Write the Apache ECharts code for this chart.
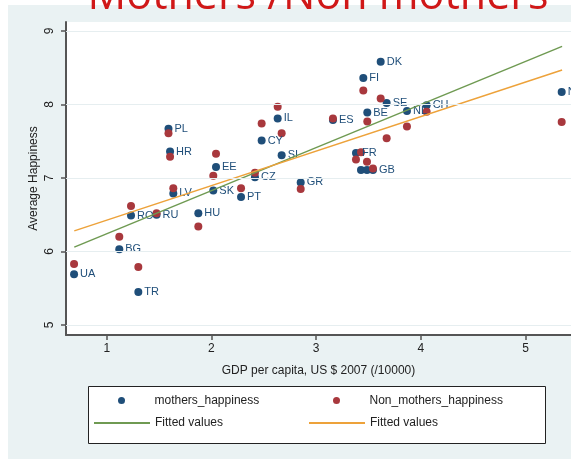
<!DOCTYPE html>
<html><head><meta charset="utf-8">
<script src="https://cdn.jsdelivr.net/npm/echarts@6/dist/echarts.min.js"></script>
<style>html,body{margin:0;padding:0;background:#fff}#c{width:571px;height:459px}</style>
</head><body><div id="c"></div>
<script>
// ---- data ----
const countries = ["UA","BG","TR","RO","RU","HU","LV","SK","EE","PL","HR","PT","CZ","GR","CY","IL","SI","ES","FR","DE","AT","GB","FI","BE","DK","SE","NL","CH","NO"];
const gdp = [0.688,1.120,1.302,1.232,1.476,1.875,1.636,2.018,2.044,1.590,1.605,2.283,2.416,2.853,2.480,2.633,2.671,3.161,3.381,3.429,3.486,3.543,3.451,3.489,3.617,3.674,3.868,4.056,5.346];
const mothersHappiness = [5.69,6.03,5.45,6.49,6.50,6.52,6.79,6.83,7.15,7.67,7.36,6.74,7.01,6.94,7.51,7.81,7.31,7.79,7.34,7.11,7.11,7.11,8.36,7.89,8.58,8.02,7.91,7.99,8.17];
const nonMothersHappiness = [5.83,6.20,5.79,6.62,6.52,6.34,6.86,7.03,7.33,7.61,7.29,6.86,7.07,6.85,7.74,7.97,7.61,7.81,7.25,7.35,7.22,7.13,8.19,7.77,8.08,7.54,7.70,7.90,7.76];
const shownLabels = ["UA","BG","TR","RO","RU","HU","LV","SK","EE","PL","HR","PT","CZ","GR","CY","IL","SI","ES","FR","","","GB","FI","BE","DK","SE","NL","CH","NO"];
const fitX = [0.69, 5.35];
const fitMothers = [6.06, 8.79];
const fitNonMothers = [6.28, 8.47];
const xTicks = [1, 2, 3, 4, 5];
const yTicks = [5, 6, 7, 8, 9];
const titleText = "Mothers /Non mothers";
const xName = "GDP per capita, US $ 2007 (/10000)";
const yName = "Average Happiness";

// ---- chart ----
const FONT = "'Liberation Sans', Arial, sans-serif";
const navy = '#1f4e79', maroon = '#a8383d', green = '#6f9a52', orange = '#eda23a';
const axisCol = '#555';
const pts = ys => gdp.map((x, i) => ({value: [x, ys[i]], name: shownLabels[i]}));
const line = ys => fitX.map((x, i) => [x, ys[i]]);

const chart = echarts.init(document.getElementById('c'), null, {renderer: 'canvas'});
const legendBase = {orient: 'horizontal', padding: 0, selectedMode: false, itemWidth: 56,
  textStyle: {fontSize: 12, color: '#222', fontFamily: FONT}};
chart.setOption({
  backgroundColor: '#fff',
  animation: false,
  textStyle: {fontFamily: FONT},
  grid: {left: 66, right: 0, top: 22, bottom: 124, show: true, backgroundColor: '#fff', borderWidth: 0},
  xAxis: {
    type: 'value', min: 0.611, max: 5.435,
    name: xName, nameLocation: 'middle', nameGap: 30,
    nameTextStyle: {fontSize: 12, color: '#222'},
    axisLine: {show: true, onZero: false, lineStyle: {color: axisCol, width: 2}},
    axisTick: {show: true, customValues: xTicks, length: 5, lineStyle: {color: axisCol, width: 1.5}},
    axisLabel: {customValues: xTicks, margin: 8, fontSize: 12, color: '#222'},
    splitLine: {show: false}
  },
  yAxis: {
    type: 'value', min: 4.864, max: 9.122,
    name: yName, nameLocation: 'middle', nameGap: 26, nameRotate: 90, nameMoveOverlap: false,
    nameTextStyle: {fontSize: 12, color: '#222'},
    axisLine: {show: true, onZero: false, lineStyle: {color: axisCol, width: 2}},
    axisTick: {show: true, customValues: yTicks, length: 5, lineStyle: {color: axisCol, width: 1.5}},
    axisLabel: {customValues: yTicks, margin: 10, fontSize: 12, color: '#222', rotate: 90},
    splitLine: {show: false}
  },
  legend: [
    Object.assign({}, legendBase, {left: 118, top: 394.5, itemHeight: 7, icon: 'circle', data: ['mothers_happiness']}),
    Object.assign({}, legendBase, {left: 333, top: 394.5, itemHeight: 7, icon: 'circle', data: ['Non_mothers_happiness']}),
    Object.assign({}, legendBase, {left: 94, top: 417, itemHeight: 2, icon: 'rect', data: ['fitM'], formatter: () => 'Fitted values'}),
    Object.assign({}, legendBase, {left: 309, top: 417, itemHeight: 2, icon: 'rect', data: ['fitN'], formatter: () => 'Fitted values'})
  ],
  graphic: [
    {type: 'rect', z: -10, silent: true, shape: {x: 8, y: 5, width: 563, height: 454}, style: {fill: '#eaf2f3'}},
    {type: 'rect', z: 3, silent: true, shape: {x: 88.5, y: 386.5, width: 457, height: 57}, style: {fill: '#fff', stroke: '#222', lineWidth: 1}},
    {type: 'text', z: 20, silent: true, x: 318, y: -3,
      style: {text: titleText, font: "43px 'Open Sans', sans-serif", fill: '#d01818', textAlign: 'center', align: 'center', textVerticalAlign: 'middle', verticalAlign: 'middle'}}
  ],
  series: [
    {
      name: 'mothers_happiness', type: 'scatter', symbol: 'circle', symbolSize: 8,
      itemStyle: {color: navy, opacity: 1},
      data: pts(mothersHappiness),
      label: {show: true, position: 'right', distance: 2, formatter: p => p.name, fontSize: 11, color: navy, fontFamily: FONT},
      markLine: {silent: true, symbol: ['none', 'none'], label: {show: false}, animation: false,
        lineStyle: {color: '#e6eef0', width: 1, type: 'solid'},
        data: yTicks.map(v => ({yAxis: v}))}
    },
    {
      name: 'Non_mothers_happiness', type: 'scatter', symbol: 'circle', symbolSize: 8,
      itemStyle: {color: maroon, opacity: 1},
      data: pts(nonMothersHappiness)
    },
    {name: 'fitM', type: 'line', symbol: 'none', data: line(fitMothers), lineStyle: {color: green, width: 1.5}, itemStyle: {color: green}, z: 3},
    {name: 'fitN', type: 'line', symbol: 'none', data: line(fitNonMothers), lineStyle: {color: orange, width: 1.5}, itemStyle: {color: orange}, z: 3}
  ]
});
</script></body></html>
